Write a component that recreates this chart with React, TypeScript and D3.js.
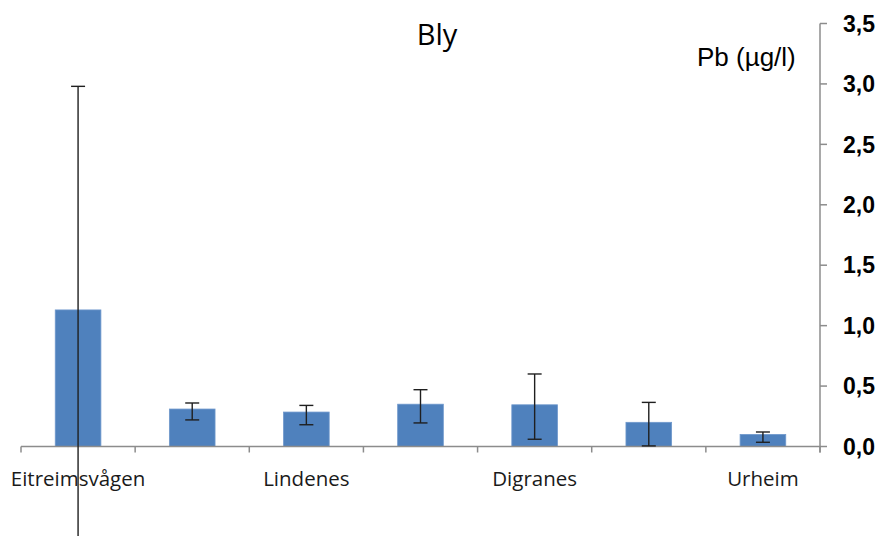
import React from "react";
import * as d3 from "d3";

const categories = ["Eitreimsvågen", "", "Lindenes", "", "Digranes", "", "Urheim"];
const means = [1.13, 0.31, 0.285, 0.35, 0.345, 0.2, 0.1];
const errHigh = [2.98, 0.36, 0.34, 0.47, 0.6, 0.365, 0.12];
const errLow = [-0.76, 0.22, 0.18, 0.195, 0.06, 0.005, 0.035];
const yTicks = [0, 0.5, 1.0, 1.5, 2.0, 2.5, 3.0, 3.5];
const title = "Bly";
const unitLabel = "Pb (µg/l)";

export default function App() {
  const W = 882, H = 536;
  const left = 21, right = 820, top = 23.5, bottom = 446.5;
  const x = d3.scaleBand<number>().domain(d3.range(categories.length)).range([left, right]).paddingInner(0.6).paddingOuter(0.3);
  const xb = d3.scaleBand<number>().domain(d3.range(categories.length)).range([left, right]);
  const y = d3.scaleLinear().domain([0, 3.5]).range([bottom, top]);
  const fmt = (v: number) => d3.format(".1f")(v).replace(".", ",");
  const axisColor = "#8c8c8c";
  const catBoundaries = d3.range(categories.length + 1).map((i) => left + i * xb.step());
  return (
    <svg width={W} height={H} style={{ position: "absolute", left: 0, top: 0 }}>
      <rect width={W} height={H} fill="#fff" />
      {means.map((m, i) => (
        <rect key={i} x={x(i)} y={y(m)} width={x.bandwidth()} height={y(0) - y(m)} fill="#4F81BD" stroke="#6f98cc" strokeWidth={0.8} />
      ))}
      {/* x axis */}
      <line x1={left} x2={right} y1={bottom} y2={bottom} stroke={axisColor} strokeWidth={1.5} />
      {catBoundaries.map((bx, i) => (
        <line key={i} x1={bx} x2={bx} y1={bottom} y2={bottom + 6} stroke={axisColor} strokeWidth={1.5} />
      ))}
      {categories.map((c, i) => (
        <text key={i} x={xb(i)! + xb.bandwidth() / 2} y={486} textAnchor="middle" fontFamily="'Open Sans', sans-serif" fontSize={20.5} fill="#1a1a1a">{c}</text>
      ))}
      {/* error bars */}
      {means.map((m, i) => {
        const cx = x(i)! + x.bandwidth() / 2;
        return (
          <g key={i} stroke="#1f1f1f" strokeWidth={1.4}>
            <line x1={cx} x2={cx} y1={y(errHigh[i])} y2={y(errLow[i])} />
            <line x1={cx - 7} x2={cx + 7} y1={y(errHigh[i])} y2={y(errHigh[i])} />
            <line x1={cx - 7} x2={cx + 7} y1={y(errLow[i])} y2={y(errLow[i])} />
          </g>
        );
      })}
      {/* y axis */}
      <line x1={right} x2={right} y1={top} y2={bottom + 6} stroke={axisColor} strokeWidth={1.5} />
      {yTicks.map((t) => (
        <g key={t}>
          <line x1={right} x2={right + 7} y1={y(t)} y2={y(t)} stroke={axisColor} strokeWidth={1.5} />
          <text x={843} y={y(t)} dy="0.36em" fontFamily="'Liberation Sans', Arial, sans-serif" fontWeight="bold" fontSize={23} fill="#000">{fmt(t)}</text>
        </g>
      ))}
      <text x={437} y={45} textAnchor="middle" fontFamily="'Open Sans', sans-serif" fontSize={29} fill="#000">{title}</text>
      <text x={697} y={66} fontFamily="'Liberation Sans', Arial, sans-serif" fontSize={26} fill="#000">{unitLabel}</text>
    </svg>
  );
}
